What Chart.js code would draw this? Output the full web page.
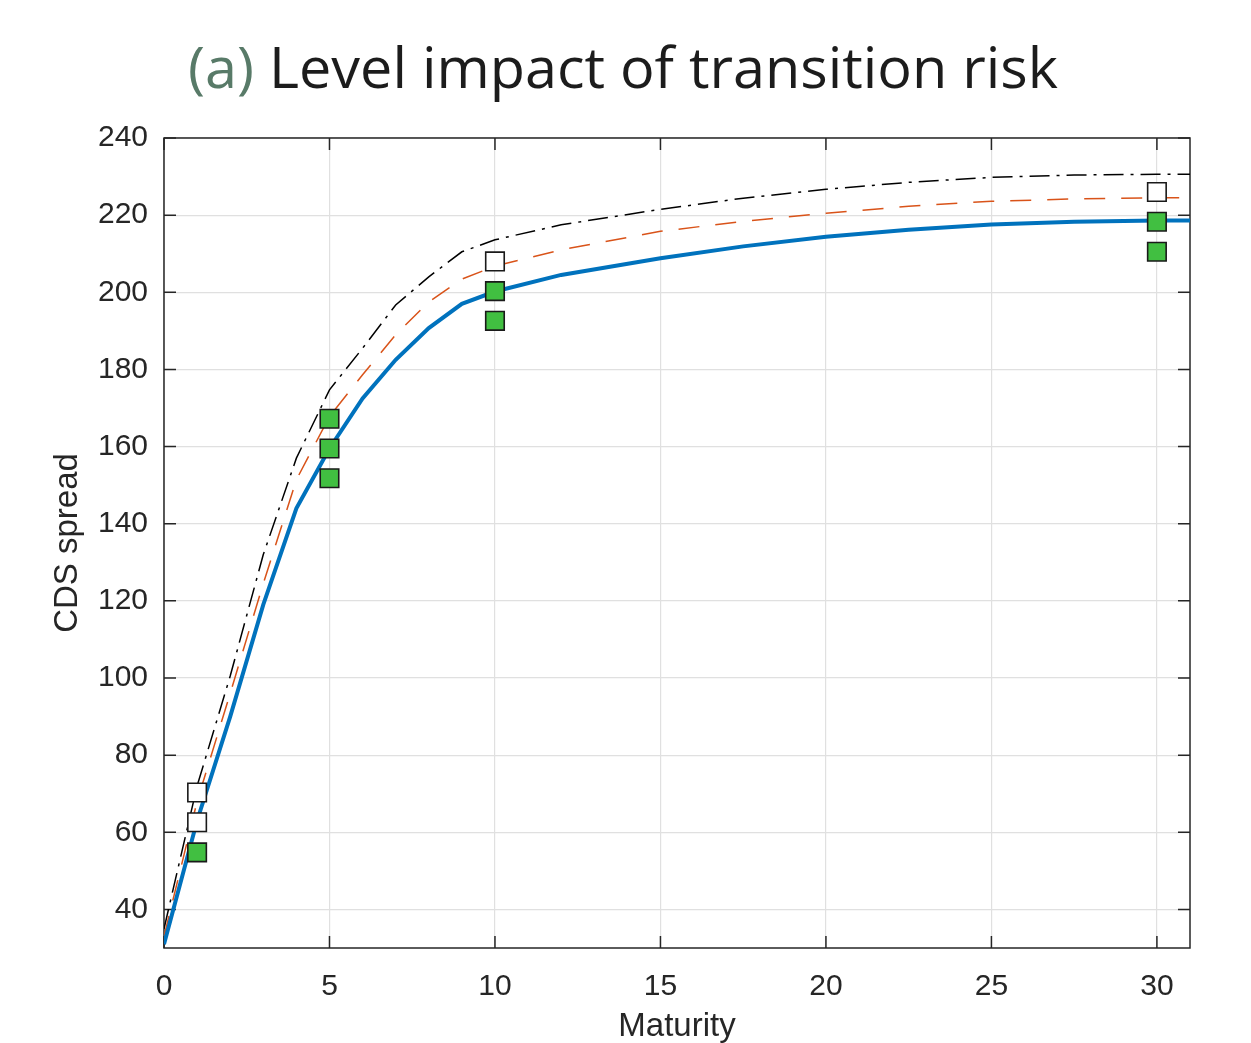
<!DOCTYPE html>
<html><head><meta charset="utf-8">
<script src="https://cdn.jsdelivr.net/npm/chart.js@4.4.1/dist/chart.umd.min.js"></script>
<style>html,body{margin:0;padding:0;background:#fff;}canvas{display:block;}</style>
</head><body>
<canvas id="c" width="1251" height="1043"></canvas>
<script>
// ---- text ----
const titlePrefix = '(a)';
const titleText = 'Level impact of transition risk';
const xLabel = 'Maturity';
const yLabel = 'CDS spread';

// ---- ticks ----
const xTicks = [0, 5, 10, 15, 20, 25, 30];
const yTicks = [40, 60, 80, 100, 120, 140, 160, 180, 200, 220, 240];

// ---- model curves ----
const maturity      = [0, 1, 2, 3, 4, 5, 6, 7, 8, 9, 10, 12, 15, 17.5, 20, 22.5, 25, 27.5, 30, 31];
const cdsBaseline   = [31, 63, 90, 119, 144, 159.5, 172.5, 182.5, 190.7, 197, 200.2, 204.5, 208.8, 211.9, 214.4, 216.2, 217.6, 218.3, 218.6, 218.6];
const cdsScenarioA  = [33, 68, 96, 124.5, 151.4, 167.8, 178.6, 189, 197.5, 203.4, 206.8, 211, 215.8, 218.4, 220.5, 222.3, 223.6, 224.2, 224.5, 224.5];
const cdsScenarioB  = [35, 72, 100.5, 132, 157, 174.7, 185.5, 196.7, 204, 210.5, 213.6, 217.5, 221.5, 224.4, 226.7, 228.5, 229.8, 230.4, 230.6, 230.6];

// ---- observed markers ----
const markerMaturity = [1, 5, 10, 30];
const markerUpper    = [70.3, 167.2, 208, 226];
const markerMid      = [62.6, 159.5, 200.3, 218.3];
const markerLower    = [54.8, 151.8, 192.6, 210.5];
const upperFill = ['#ffffff', '#41bf41', '#ffffff', '#ffffff'];
const midFill   = ['#ffffff', '#41bf41', '#41bf41', '#41bf41'];
const lowerFill = ['#41bf41', '#41bf41', '#41bf41', '#41bf41'];

const toPts = (xs, ys) => xs.map((x, i) => ({x: x, y: ys[i]}));

const lineDs = (ys, color, width, dash, order) => ({
  data: toPts(maturity, ys), showLine: true, borderColor: color, borderWidth: width,
  borderDash: dash, pointRadius: 0, fill: false, tension: 0, order: order
});
const markDs = (ys, fills) => ({
  data: toPts(markerMaturity, ys), showLine: false, pointStyle: 'rect', pointRadius: 13.1,
  pointBackgroundColor: fills, pointBorderColor: '#1a1a1a', pointBorderWidth: 1.6, order: 0
});

const AX = '#262626';
const TICK_FONT = {family: '"Liberation Sans", Arial, sans-serif', size: 30};
const LABEL_FONT = {family: '"Liberation Sans", Arial, sans-serif', size: 33, lineHeight: 1};

const framePlugin = {
  id: 'frame',
  beforeDatasetsDraw(chart) {
    const {ctx, chartArea: a, scales: {x, y}} = chart;
    ctx.save();
    ctx.strokeStyle = AX; ctx.lineWidth = 1.5;
    ctx.strokeRect(a.left, a.top, a.right - a.left, a.bottom - a.top);
    const L = 12;
    ctx.beginPath();
    x.ticks.forEach(t => {
      const px = x.getPixelForValue(t.value);
      ctx.moveTo(px, a.bottom); ctx.lineTo(px, a.bottom - L);
      ctx.moveTo(px, a.top); ctx.lineTo(px, a.top + L);
    });
    y.ticks.forEach(t => {
      const py = y.getPixelForValue(t.value);
      ctx.moveTo(a.left, py); ctx.lineTo(a.left + L, py);
      ctx.moveTo(a.right, py); ctx.lineTo(a.right - L, py);
    });
    ctx.stroke();
    ctx.restore();
  }
};

const titlePlugin = {
  id: 'twoColorTitle',
  afterDraw(chart) {
    const ctx = chart.ctx;
    ctx.save();
    const fam = '"Open Sans", Lato, sans-serif';
    const full = titlePrefix + ' ' + titleText;
    ctx.font = '60px ' + fam;
    const w60 = ctx.measureText(full).width;
    const size = 60 * 870 / w60;
    ctx.font = size + 'px ' + fam;
    const wFull = ctx.measureText(full).width;
    const cx = 623;
    let x0 = cx - wFull / 2;
    const base = 88;
    ctx.textBaseline = 'alphabetic';
    ctx.textAlign = 'left';
    ctx.fillStyle = '#587a68';
    ctx.fillText(titlePrefix, x0, base);
    const wp = ctx.measureText(titlePrefix + ' ').width;
    ctx.fillStyle = '#1c1c1c';
    ctx.fillText(titleText, x0 + wp, base);
    ctx.restore();
  }
};

new Chart(document.getElementById('c').getContext('2d'), {
  type: 'scatter',
  data: {
    datasets: [
      lineDs(cdsScenarioB, '#000000', 1.5, [20, 7, 3, 7], 3),
      lineDs(cdsScenarioA, '#D95319', 1.5, [21, 16], 2),
      lineDs(cdsBaseline, '#0072BD', 4, [], 1),
      markDs(markerUpper, upperFill),
      markDs(markerMid, midFill),
      markDs(markerLower, lowerFill)
    ]
  },
  options: {
    responsive: false, animation: false, devicePixelRatio: 1,
    layout: {padding: {top: 138, right: 61, left: 0, bottom: 0}},
    plugins: {legend: {display: false}, tooltip: {enabled: false}, title: {display: false}},
    scales: {
      x: {
        type: 'linear', position: 'bottom', min: 0, max: 31,
        afterBuildTicks: s => { s.ticks = xTicks.map(v => ({value: v})); },
        afterFit: s => { s.height = 95; },
        grid: {color: '#e0e0e0', lineWidth: 1.2, drawTicks: false},
        border: {display: false},
        ticks: {padding: 21, font: TICK_FONT, color: AX, maxRotation: 0, autoSkip: false},
        title: {display: true, text: xLabel, font: LABEL_FONT, color: AX, padding: {top: 0, bottom: 0}}
      },
      y: {
        type: 'linear', position: 'left', min: 30, max: 240,
        afterBuildTicks: s => { s.ticks = yTicks.map(v => ({value: v})); },
        afterFit: s => { s.width = 164; },
        grid: {color: '#e0e0e0', lineWidth: 1.2, drawTicks: false},
        border: {display: false},
        ticks: {padding: 16, font: TICK_FONT, color: AX, autoSkip: false},
        title: {display: true, text: yLabel, font: LABEL_FONT, color: AX, padding: {top: 51, bottom: 0}}
      }
    }
  },
  plugins: [framePlugin, titlePlugin]
});
</script>
</body></html>
